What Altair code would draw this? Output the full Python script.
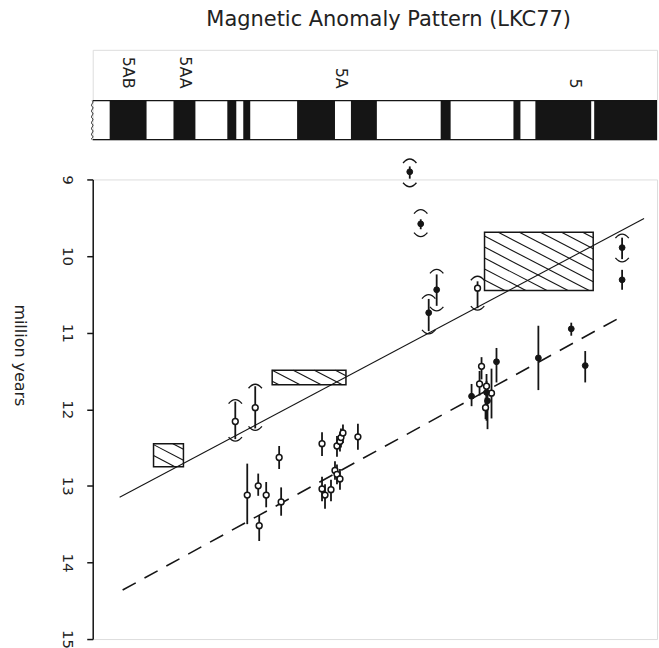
import altair as alt
import pandas as pd

# ---- magnetic anomaly pattern (black = normally magnetised block) ----
stripe_start = [17, 81, 135, 151, 205, 259, 349, 422, 444, 503]
stripe_end = [54, 103, 144, 158, 243, 285, 359, 429, 500, 566]
anomaly_names = ["5AB", "5AA", "5A", "5"]
anomaly_dist = [35, 93, 249, 484]

# ---- dated samples: distance along profile, age (m.y.), error bar ----
pt_dist = [155, 166, 174, 167, 187, 189,
           230, 266, 245, 248, 249, 251, 243, 245, 248, 230, 233, 239,
           390, 388, 395, 395, 400, 396, 394,
           380, 405, 447, 480, 494, 531]
pt_age = [13.12, 13.00, 13.12, 13.52, 12.63, 13.21,
          12.45, 12.36, 12.48, 12.42, 12.37, 12.31, 12.80, 12.85, 12.91, 13.04, 13.12, 13.05,
          11.44, 11.67, 11.70, 11.78, 11.79, 11.89, 11.98,
          11.83, 11.38, 11.33, 10.95, 11.43, 10.31]
pt_lo = [12.71, 12.84, 12.95, 13.38, 12.48, 13.02,
         12.30, 12.19, 12.35, 12.30, 12.25, 12.20, 12.68, 12.72, 12.78, 12.88, 12.98, 12.92,
         11.32, 11.50, 11.54, 11.63, 11.47, 11.74, 11.85,
         11.67, 11.20, 10.91, 10.87, 11.24, 10.18]
pt_hi = [13.50, 13.13, 13.28, 13.72, 12.78, 13.39,
         12.61, 12.53, 12.62, 12.55, 12.50, 12.44, 12.92, 12.98, 13.05, 13.20, 13.30, 13.20,
         11.61, 11.82, 11.99, 12.15, 12.12, 12.26, 12.13,
         11.96, 11.65, 11.75, 11.04, 11.65, 10.44]
pt_filled = [False] * 6 + [False] * 12 + [False, False, False, True, False, True, False] + [True] * 6

# ---- samples with bracketed (total range) ages ----
br_dist = [143, 163, 318, 329, 345, 337, 386, 531]
br_age = [12.16, 11.98, 8.90, 9.58, 10.44, 10.74, 10.42, 9.89]
br_bar_lo = [11.90, 11.70, 8.83, 9.52, 10.24, 10.56, 10.33, 9.76]
br_bar_hi = [12.39, 12.25, 8.99, 9.65, 10.65, 10.98, 10.68, 10.04]
br_lo = [11.90, 11.70, 8.76, 9.42, 10.20, 10.53, 10.29, 9.74]
br_hi = [12.39, 12.25, 9.07, 9.72, 10.69, 10.99, 10.68, 10.05]
br_filled = [False, False, True, True, True, True, False, True]

# ---- age ranges from anomaly correlation (hatched boxes) ----
box_x1 = [61, 180, 393]
box_x2 = [91, 254, 502]
box_t1 = [12.45, 11.49, 9.69]
box_t2 = [12.75, 11.68, 10.45]

# ---- fitted age trends ----
solid_dist = [27, 553]
solid_age = [13.15, 9.51]
dashed_dist = [30, 532]
dashed_age = [14.36, 10.78]

W, H_TOP, H = 566, 90, 461
AGE_MIN, AGE_MAX = 9, 15
PX_PER_MY = H / (AGE_MAX - AGE_MIN)
INK = "#151515"
FONT = "DejaVu Sans"

xscale = alt.Scale(domain=[0, W], nice=False, zero=False)
yscale = alt.Scale(domain=[AGE_MIN, AGE_MAX], reverse=True, nice=False, zero=False)


def hatch_segments(x1, x2, t1, t2, slope=0.52, step=11.0):
    """Diagonal hatch lines clipped to a box, computed in screen proportions."""
    v1 = (t1 - AGE_MIN) * PX_PER_MY
    v2 = (t2 - AGE_MIN) * PX_PER_MY
    segs = []
    c = v1 - slope * x2 + step * 0.5
    cmax = v2 - slope * x1
    while c < cmax:
        ua = max(x1, (v1 - c) / slope)
        ub = min(x2, (v2 - c) / slope)
        if ub - ua > 0.5:
            segs.append({
                "xa": ua, "xb": ub,
                "ta": AGE_MIN + (c + slope * ua) / PX_PER_MY,
                "tb": AGE_MIN + (c + slope * ub) / PX_PER_MY,
            })
        c += step
    return segs


hatch_rows = []
for a, b, c, d in zip(box_x1, box_x2, box_t1, box_t2):
    hatch_rows += hatch_segments(a, b, c, d)
hatch_df = pd.DataFrame(hatch_rows)

# ---------------- top strip: anomaly pattern ----------------
ys = alt.Scale(domain=[0, 1], nice=False, zero=False)
stripes_df = pd.DataFrame({"x1": stripe_start, "x2": stripe_end})
stripes = alt.Chart(stripes_df).mark_rect(color=INK).encode(
    x=alt.X("x1:Q", scale=xscale, axis=None),
    x2="x2:Q",
    y=alt.Y("y1:Q", scale=ys, axis=None),
    y2="y2:Q",
).transform_calculate(y1="0", y2="0.433")

edge_df = pd.DataFrame({"xa": [0, 0], "xb": [W, W], "yv": [0.0, 0.433]})
edges = alt.Chart(edge_df).mark_rule(color=INK, strokeWidth=1.3).encode(
    x=alt.X("xa:Q", scale=xscale, axis=None),
    x2="xb:Q",
    y=alt.Y("yv:Q", scale=ys, axis=None),
)

wave_path = ("M0,-1 C0.12,-0.9 -0.12,-0.8 0,-0.7 C0.12,-0.6 -0.12,-0.5 0,-0.4 "
             "C0.12,-0.3 -0.12,-0.2 0,-0.1 C0.12,0 -0.12,0.1 0,0.2 "
             "C0.12,0.3 -0.12,0.4 0,0.5 C0.12,0.6 -0.12,0.7 0,0.8 "
             "C0.12,0.9 -0.12,0.95 0,1")
wave = alt.Chart(pd.DataFrame({"xv": [-0.5], "yv": [0.2165]})).mark_point(
    shape=wave_path, size=39 * 39, filled=False, stroke=INK, strokeWidth=1.0, opacity=1
).encode(
    x=alt.X("xv:Q", scale=xscale, axis=None),
    y=alt.Y("yv:Q", scale=ys, axis=None),
)

labels_df = pd.DataFrame({"name": anomaly_names, "xv": anomaly_dist, "yv": [0.567] * 4})
labels = alt.Chart(labels_df).mark_text(
    angle=90, align="right", baseline="middle", fontSize=16, font=FONT, color="#222"
).encode(
    x=alt.X("xv:Q", scale=xscale, axis=None),
    y=alt.Y("yv:Q", scale=ys, axis=None),
    text="name:N",
)

top = alt.layer(stripes, edges, wave, labels).properties(width=W, height=H_TOP)

# ---------------- main panel: ages vs distance ----------------
yaxis = alt.Axis(
    values=[9, 10, 11, 12, 13, 14, 15], format="d", grid=False,
    labelAngle=90, labelAlign="center", labelBaseline="top",
    labelFontSize=15, labelFont=FONT, labelColor="#222", labelPadding=12,
    tickSize=6, tickColor=INK, tickWidth=1.5,
    domainColor=INK, domainWidth=1.5,
    title="million years", titleAngle=90, titleFont=FONT, titleFontSize=16,
    titleFontWeight="normal", titleColor="#222", titleX=-73, titleY=176,
    titleAlign="center", titleBaseline="middle",
)

boxes_df = pd.DataFrame({"x1": box_x1, "x2": box_x2, "t1": box_t1, "t2": box_t2})
boxes = alt.Chart(boxes_df).mark_rect(fill="white", fillOpacity=0, stroke=INK, strokeWidth=1.5).encode(
    x=alt.X("x1:Q", scale=xscale, axis=None),
    x2="x2:Q",
    y=alt.Y("t1:Q", scale=yscale, axis=yaxis),
    y2="t2:Q",
)

hatch = alt.Chart(hatch_df).mark_rule(color=INK, strokeWidth=1.1).encode(
    x=alt.X("xa:Q", scale=xscale, axis=None),
    x2="xb:Q",
    y=alt.Y("ta:Q", scale=yscale),
    y2="tb:Q",
)

solid = alt.Chart(pd.DataFrame({"d": solid_dist, "t": solid_age})).mark_line(
    color=INK, strokeWidth=1.1
).encode(x=alt.X("d:Q", scale=xscale, axis=None), y=alt.Y("t:Q", scale=yscale))

dashed = alt.Chart(pd.DataFrame({"d": dashed_dist, "t": dashed_age})).mark_line(
    color=INK, strokeWidth=1.6, strokeDash=[15, 10]
).encode(x=alt.X("d:Q", scale=xscale, axis=None), y=alt.Y("t:Q", scale=yscale))

pts_df = pd.DataFrame({"d": pt_dist, "t": pt_age, "lo": pt_lo, "hi": pt_hi, "filled": pt_filled})
br_df = pd.DataFrame({"d": br_dist, "t": br_age, "lo": br_bar_lo, "hi": br_bar_hi,
                      "blo": br_lo, "bhi": br_hi, "filled": br_filled})
all_pts = pd.concat([pts_df, br_df[["d", "t", "lo", "hi", "filled"]]], ignore_index=True)

bars = alt.Chart(all_pts).mark_rule(color=INK, strokeWidth=1.8).encode(
    x=alt.X("d:Q", scale=xscale, axis=None),
    y=alt.Y("lo:Q", scale=yscale),
    y2="hi:Q",
)

arc_top = "M-1,0.3 Q0,-0.9 1,0.3"
arc_bot = "M-1,-0.3 Q0,0.9 1,-0.3"
br_top = alt.Chart(br_df).mark_point(
    shape=arc_top, size=180, filled=False, stroke=INK, strokeWidth=1.4, opacity=1
).encode(x=alt.X("d:Q", scale=xscale, axis=None), y=alt.Y("blo:Q", scale=yscale))
br_bot = alt.Chart(br_df).mark_point(
    shape=arc_bot, size=180, filled=False, stroke=INK, strokeWidth=1.4, opacity=1
).encode(x=alt.X("d:Q", scale=xscale, axis=None), y=alt.Y("bhi:Q", scale=yscale))

open_pts = alt.Chart(all_pts[~all_pts["filled"]]).mark_point(
    shape="circle", size=34, filled=True, fill="white", stroke=INK, strokeWidth=1.5, opacity=1
).encode(x=alt.X("d:Q", scale=xscale, axis=None), y=alt.Y("t:Q", scale=yscale))
solid_pts = alt.Chart(all_pts[all_pts["filled"]]).mark_point(
    shape="circle", size=34, filled=True, fill=INK, stroke=INK, strokeWidth=1, opacity=1
).encode(x=alt.X("d:Q", scale=xscale, axis=None), y=alt.Y("t:Q", scale=yscale))

main = alt.layer(
    boxes, hatch, solid, dashed, bars, br_top, br_bot, open_pts, solid_pts
).properties(width=W, height=H)

chart = alt.vconcat(top, main, spacing=40, bounds="flush").properties(
    title=alt.TitleParams(
        "Magnetic Anomaly Pattern (LKC77)", fontSize=21, font=FONT, fontWeight="normal",
        color="#222", anchor="middle", dx=54, offset=19,
    ),
    padding={"left": 11, "top": 8, "right": 0, "bottom": 0},
).configure_view(stroke=None).configure(background="white")

chart.save("out.html", embed_options={"renderer": "svg", "actions": False})
